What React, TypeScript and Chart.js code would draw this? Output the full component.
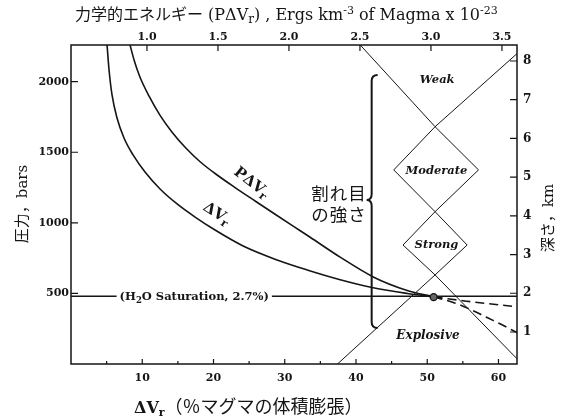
import React, { useEffect, useRef } from "react";
import { Chart, registerables } from "chart.js";
Chart.register(...registerables);

// ---------------- data ----------------
const dvrX = [5.06, 5.34, 5.76, 6.46, 7.44, 8.71, 10.39, 12.5, 14.89, 17.42, 20.22, 24.16, 28.93, 33.15, 37.78, 42.42, 47.19, 50.9];
const dvrP = [2260, 2083, 1906, 1743, 1601, 1481, 1360, 1240, 1134, 1041, 949, 836, 737, 666, 597, 540, 500, 476];
const pdvrX = [8.29, 8.85, 9.69, 10.96, 12.5, 14.19, 16.15, 18.12, 20.51, 23.03, 25.84, 28.65, 31.18, 33.57, 37.78, 42.42, 47.19, 50.9];
const pdvrP = [2260, 2154, 2031, 1897, 1761, 1642, 1528, 1433, 1339, 1250, 1155, 1061, 977, 898, 757, 617, 521, 476];
const dvrDashX = [50.9, 55.5, 62.6];
const dvrDashP = [476, 445, 405];
const pdvrDashX = [50.9, 53.65, 56.0, 58.4, 60.7, 62.6];
const pdvrDashP = [476, 436, 388, 329, 273, 222];
const satX = [0, 62.6];
const satP = [480, 480];
const junctionX = [50.9];
const junctionP = [474];
const zigAX = [40.6, 51.1, 57.2, 51.1, 46.6, 51.1, 62.6];
const zigAP = [2260, 1681, 1375, 1079, 843, 631, 37];
const zigBX = [62.6, 51.1, 45.3, 51.1, 55.6, 51.1, 37.4];
const zigBP = [2199, 1681, 1375, 1079, 843, 631, 0];

const bottomMajorTicks = [10, 20, 30, 40, 50, 60];
const bottomMinorTicks = [5, 15, 25, 35, 45, 55];
const topTicks = [1.0, 1.5, 2.0, 2.5, 3.0, 3.5];
const leftTicks = [500, 1000, 1500, 2000];
const rightTicks = [1, 2, 3, 4, 5, 6, 7, 8];

const zoneLabels = ["Weak", "Moderate", "Strong", "Explosive"];
const zoneX = [51.4, 51.3, 51.3, 50.1];
const zoneP = [2012, 1367, 843, 198];

// brace (data units)
const braceX = 42.2;
const braceTopP = 2047;
const braceMidP = 1162;
const braceBotP = 255;

// ---------------- helpers ----------------
const pts = (xs: number[], ys: number[]) => xs.map((x, i) => ({ x, y: ys[i] }));
const INK = "#151515";
const SERIF = "'DejaVu Serif'";
const CJK = "'Noto Sans CJK JP'";

type Seg = { t: string; f: string; dy?: number };
function richWidth(ctx: CanvasRenderingContext2D, segs: Seg[]) {
  let w = 0;
  for (const s of segs) {
    ctx.font = s.f;
    w += ctx.measureText(s.t).width;
  }
  return w;
}
function drawRich(ctx: CanvasRenderingContext2D, segs: Seg[], x: number, y: number) {
  let cx = x;
  for (const s of segs) {
    ctx.font = s.f;
    ctx.fillText(s.t, cx, y + (s.dy || 0));
    cx += ctx.measureText(s.t).width;
  }
}
function drawRichRot(ctx: CanvasRenderingContext2D, segs: Seg[], cx: number, cy: number, ang: number, base: number) {
  ctx.save();
  ctx.translate(cx, cy);
  ctx.rotate(ang);
  const w = richWidth(ctx, segs);
  drawRich(ctx, segs, -w / 2, base);
  ctx.restore();
}

const decor = {
  id: "decor",
  afterDatasetsDraw(chart: any) {
    const ctx: CanvasRenderingContext2D = chart.ctx;
    const xs = chart.scales.x, ys = chart.scales.y, x2 = chart.scales.x2, y2 = chart.scales.y2;
    const { left, right, top, bottom } = chart.chartArea;
    ctx.save();
    ctx.strokeStyle = INK;
    ctx.fillStyle = INK;
    // frame
    ctx.lineWidth = 1.5;
    ctx.strokeRect(left, top, right - left, bottom - top);
    // inward ticks
    ctx.lineWidth = 1.2;
    ctx.beginPath();
    for (const v of bottomMajorTicks) { const p = xs.getPixelForValue(v); ctx.moveTo(p, bottom); ctx.lineTo(p, bottom - 5); }
    for (const v of bottomMinorTicks) { const p = xs.getPixelForValue(v); ctx.moveTo(p, bottom); ctx.lineTo(p, bottom - 3); }
    for (const v of topTicks) { const p = x2.getPixelForValue(v); ctx.moveTo(p, top); ctx.lineTo(p, top + 6); }
    for (const v of leftTicks) { const p = ys.getPixelForValue(v); ctx.moveTo(left, p); ctx.lineTo(left + 7, p); }
    for (const v of rightTicks) { const p = y2.getPixelForValue(v); ctx.moveTo(right, p); ctx.lineTo(right - 7, p); }
    ctx.stroke();

    // brace
    const bx = xs.getPixelForValue(braceX);
    const bt = ys.getPixelForValue(braceTopP);
    const bm = ys.getPixelForValue(braceMidP);
    const bb = ys.getPixelForValue(braceBotP);
    ctx.lineWidth = 2;
    ctx.beginPath();
    ctx.moveTo(bx + 6, bt);
    ctx.quadraticCurveTo(bx, bt, bx, bt + 6);
    ctx.lineTo(bx, bm - 6);
    ctx.quadraticCurveTo(bx, bm, bx - 5, bm);
    ctx.quadraticCurveTo(bx, bm, bx, bm + 6);
    ctx.lineTo(bx, bb - 6);
    ctx.quadraticCurveTo(bx, bb, bx + 6, bb);
    ctx.stroke();

    // zone labels
    ctx.textAlign = "center";
    ctx.textBaseline = "middle";
    zoneLabels.forEach((lab, i) => {
      ctx.font = `italic bold ${lab === "Explosive" ? 12 : 11.5}px ${SERIF}`;
      ctx.fillText(lab, xs.getPixelForValue(zoneX[i]), ys.getPixelForValue(zoneP[i]));
    });

    // H2O saturation label with white backing
    {
      const segs: Seg[] = [
        { t: "(H", f: `bold 11.5px ${SERIF}` },
        { t: "2", f: `bold 8.5px ${SERIF}`, dy: 3 },
        { t: "O Saturation, 2.7%)", f: `bold 11.5px ${SERIF}` },
      ];
      ctx.textAlign = "left";
      ctx.textBaseline = "alphabetic";
      const w = richWidth(ctx, segs);
      const cx = xs.getPixelForValue(17.3);
      const cy = ys.getPixelForValue(480);
      ctx.fillStyle = "#fff";
      ctx.fillRect(cx - w / 2 - 3, cy - 8, w + 6, 16);
      ctx.fillStyle = INK;
      drawRich(ctx, segs, cx - w / 2, cy + 4);
    }

    // curve labels
    ctx.textAlign = "left";
    ctx.textBaseline = "alphabetic";
    drawRichRot(ctx, [
      { t: "PΔV", f: `bold 15px ${SERIF}` },
      { t: "r", f: `bold 11px ${SERIF}`, dy: 3 },
    ], xs.getPixelForValue(25.4), ys.getPixelForValue(1290), (38 * Math.PI) / 180, 5);
    drawRichRot(ctx, [
      { t: "ΔV", f: `bold 15px ${SERIF}` },
      { t: "r", f: `bold 11px ${SERIF}`, dy: 3 },
    ], xs.getPixelForValue(20.5), ys.getPixelForValue(1070), (33 * Math.PI) / 180, 5);

    // 割れ目の強さ
    ctx.textAlign = "center";
    ctx.textBaseline = "middle";
    ctx.font = `17.5px ${CJK}`;
    (ctx as any).letterSpacing = "1px";
    ctx.fillText("割れ目", xs.getPixelForValue(37.6), ys.getPixelForValue(1212));
    ctx.fillText("の強さ", xs.getPixelForValue(37.6), ys.getPixelForValue(1063));
    (ctx as any).letterSpacing = "0px";

    // titles
    ctx.textAlign = "left";
    ctx.textBaseline = "alphabetic";
    drawRich(ctx, [
      { t: "力学的エネルギー", f: `16px ${CJK}` },
      { t: " (PΔV", f: `16px ${SERIF}` },
      { t: "r", f: `12px ${SERIF}`, dy: 3 },
      { t: ") , Ergs km", f: `16px ${SERIF}` },
      { t: "-3", f: `11px ${SERIF}`, dy: -6 },
      { t: " of Magma x 10", f: `16px ${SERIF}` },
      { t: "-23", f: `11px ${SERIF}`, dy: -6 },
    ], 75, 20);
    drawRich(ctx, [
      { t: "ΔV", f: `bold 16px ${SERIF}` },
      { t: "r", f: `bold 11px ${SERIF}`, dy: 3 },
      { t: "（％マグマの体積膨張）", f: `18px ${CJK}` },
    ], 134, 413);
    drawRichRot(ctx, [
      { t: "圧力，", f: `15px ${CJK}` },
      { t: "bars", f: `15px ${SERIF}` },
    ], 22, 204, -Math.PI / 2, 5);
    drawRichRot(ctx, [
      { t: "深さ，", f: `15px ${CJK}` },
      { t: "km", f: `15px ${SERIF}` },
    ], 548, 218, -Math.PI / 2, 5);
    ctx.restore();
  },
};

const tickFont = { family: SERIF, size: 11, weight: "bold" as const };

export default function App() {
  const ref = useRef<HTMLCanvasElement | null>(null);
  useEffect(() => {
    document.body.style.margin = "0";
    const canvas = ref.current!;
    const line = (data: any, extra: any = {}) => ({
      data, showLine: true, pointRadius: 0, borderColor: INK, borderWidth: 1.6,
      fill: false, tension: 0, ...extra,
    });
    const chart = new Chart(canvas, {
      type: "scatter",
      data: {
        datasets: [
          {
            data: pts(junctionX, junctionP), showLine: false, pointRadius: 3.5,
            pointBackgroundColor: "#666", pointBorderColor: INK, pointBorderWidth: 1.3,
          } as any,
          line(pts(dvrX, dvrP), { cubicInterpolationMode: "monotone" }),
          line(pts(pdvrX, pdvrP), { cubicInterpolationMode: "monotone" }),
          line(pts(dvrDashX, dvrDashP), { borderDash: [9, 5], cubicInterpolationMode: "monotone" }),
          line(pts(pdvrDashX, pdvrDashP), { borderDash: [9, 5], cubicInterpolationMode: "monotone" }),
          line(pts(satX, satP), { borderWidth: 1.3 }),
          line(pts(zigAX, zigAP), { borderWidth: 1 }),
          line(pts(zigBX, zigBP), { borderWidth: 1 }),
        ],
      },
      options: {
        responsive: false,
        animation: false,
        layout: { padding: 0 },
        plugins: { legend: { display: false }, tooltip: { enabled: false } },
        scales: {
          x: {
            type: "linear", position: "bottom", min: 0, max: 62.6,
            afterBuildTicks: (s: any) => { s.ticks = bottomMajorTicks.map((v) => ({ value: v })); },
            afterFit: (s: any) => { s.height = 54; },
            ticks: { font: tickFont, color: INK, padding: 8, maxRotation: 0, autoSkip: false, callback: (v: any) => String(v) },
            grid: { display: false, drawTicks: false }, border: { display: false },
          },
          x2: {
            type: "linear", position: "top", min: 0.465, max: 3.606,
            afterBuildTicks: (s: any) => { s.ticks = topTicks.map((v) => ({ value: v })); },
            afterFit: (s: any) => { s.height = 45; },
            ticks: { font: tickFont, color: INK, padding: 1, maxRotation: 0, autoSkip: false, callback: (v: any) => Number(v).toFixed(1) },
            grid: { display: false, drawTicks: false }, border: { display: false },
          },
          y: {
            type: "linear", position: "left", min: 0, max: 2260,
            afterBuildTicks: (s: any) => { s.ticks = leftTicks.map((v) => ({ value: v })); },
            afterFit: (s: any) => { s.width = 71; },
            ticks: { font: tickFont, color: INK, padding: 2, autoSkip: false, callback: (v: any) => String(v) },
            grid: { display: false, drawTicks: false }, border: { display: false },
          },
          y2: {
            type: "linear", position: "right", min: 0.173, max: 8.413,
            afterBuildTicks: (s: any) => { s.ticks = rightTicks.map((v) => ({ value: v })); },
            afterFit: (s: any) => { s.width = 48; },
            ticks: { font: { ...tickFont, size: 12 }, color: INK, padding: 6, autoSkip: false, callback: (v: any) => String(v) },
            grid: { display: false, drawTicks: false }, border: { display: false },
          },
        },
      } as any,
      plugins: [decor],
    });
    return () => chart.destroy();
  }, []);
  return (
    <div style={{ width: 565, height: 418, background: "#fff" }}>
      <canvas ref={ref} width={565} height={418} style={{ display: "block" }} />
    </div>
  );
}
